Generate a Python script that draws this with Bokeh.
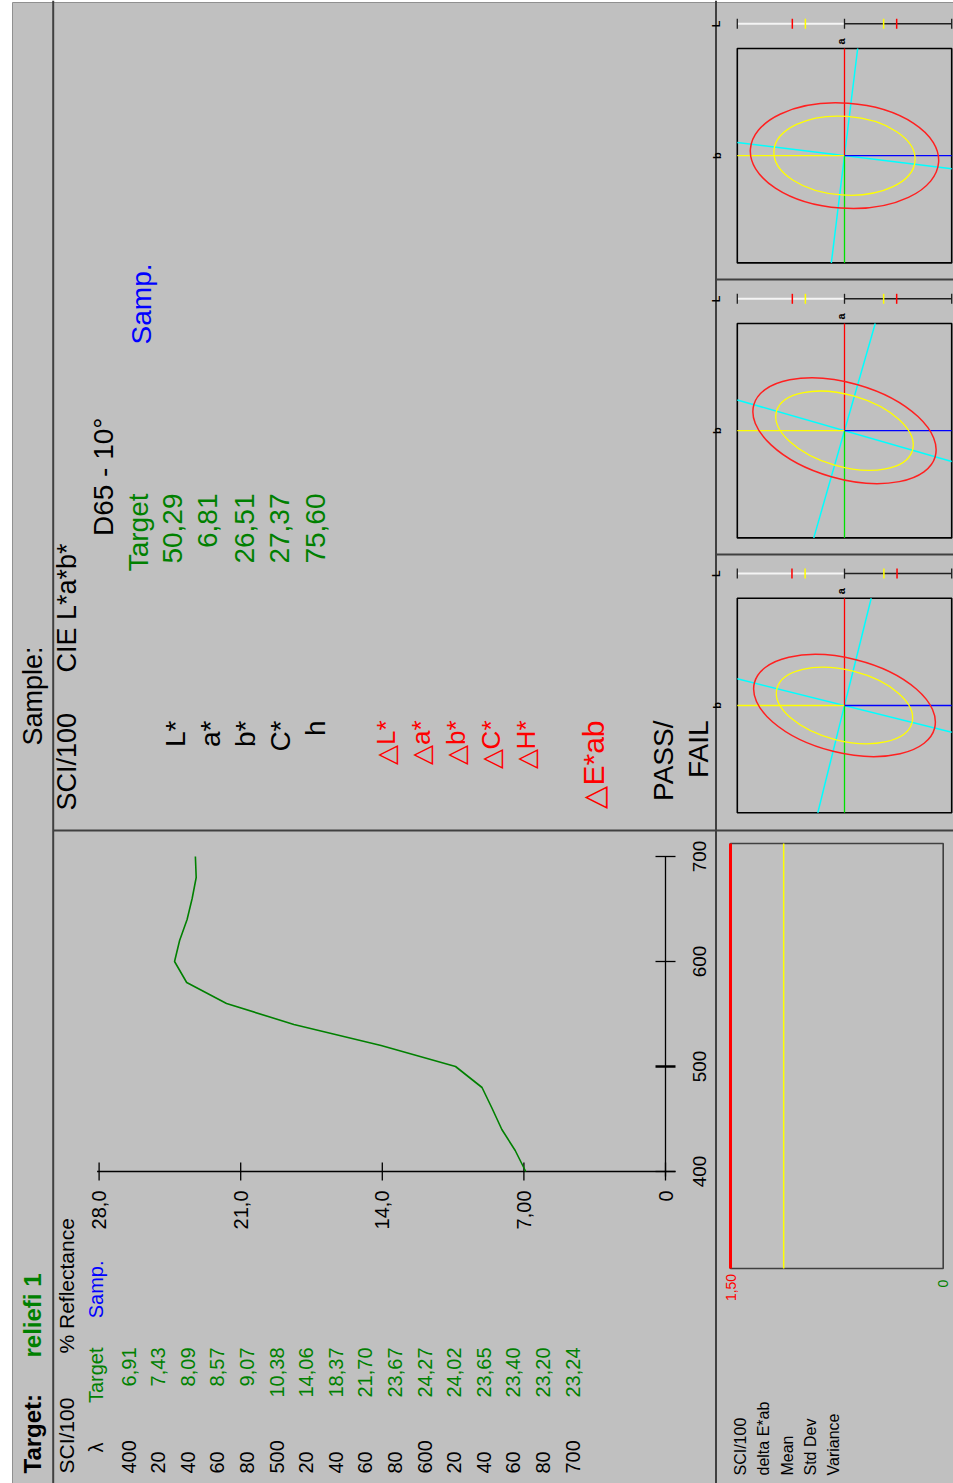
import math
from bokeh.plotting import figure
from bokeh.models import Range1d
from bokeh.core.properties import value
from bokeh.embed import file_html
from bokeh.resources import INLINE

# ---------------- data ----------------
wavelengths = [400, 420, 440, 460, 480, 500, 520, 540, 560, 580, 600, 620, 640, 660, 680, 700]
wl_row_labels = ["400", "20", "40", "60", "80", "500", "20", "40", "60", "80",
                 "600", "20", "40", "60", "80", "700"]
target_reflectance = [6.91, 7.43, 8.09, 8.57, 9.07, 10.38, 14.06, 18.37, 21.70, 23.67,
                      24.27, 24.02, 23.65, 23.40, 23.20, 23.24]
refl_ticks = [28.0, 21.0, 14.0, 7.0, 0.0]
refl_tick_labels = ["28,0", "21,0", "14,0", "7,00", "0"]
wl_ticks = [400, 500, 600, 700]
wl_tick_labels = ["400", "500", "600", "700"]

lab_names = ["L*", "a*", "b*", "C*", "h"]
lab_target = [50.29, 6.81, 26.51, 27.37, 75.60]
delta_names = ["\u25b3L*", "\u25b3a*", "\u25b3b*", "\u25b3C*", "\u25b3H*"]

ellipse_major = [2.64, 2.64, 2.60]
ellipse_minor = [1.47, 1.34, 1.32]
ellipse_tilt_deg = [-4.0, -16.0, -14.0]
hue_tilt_deg = [-7.0, -16.0, -14.0]
l_tolerance = [1.46, 1.46, 1.47]
warning_fraction = 0.75
ab_half_span = 3.0

de_tolerance = 1.50
de_limit_labels = ["1,50", "0"]
stat_labels = ["SCI/100", "delta E*ab", "Mean", "Std Dev", "Variance"]


def dec(v, nd=2):
    return f"{v:.{nd}f}".replace(".", ",")


# ---------------- layout helpers (page pixel coordinates) ----------------
FX0, FX1 = 0, 953      # page x covered by the frame
FY0, FY1 = 0, 1483     # Y (upward) covered by the frame


def Y(py):
    return 1483 - py


def make_range(p0, v0, p1, v1, lo, hi):
    k = (v1 - v0) / (p1 - p0)
    return Range1d(start=v0 + (lo - p0) * k, end=v0 + (hi - p0) * k)


FONT = value("Liberation Sans")
GRAY = "#c0c0c0"
DARK = "#404040"

p = figure(width=953, height=1483, x_range=Range1d(FX0, FX1), y_range=Range1d(FY0, FY1),
           output_backend="svg", toolbar_location=None, min_border=0,
           x_axis_location=None, y_axis_location=None,
           background_fill_color="white", border_fill_color="white", outline_line_color=None)
p.xgrid.grid_line_color = None
p.ygrid.grid_line_color = None


def rtext(xs, ys, texts, size, color="black", align="left", bold=False, **kw):
    p.text(x=list(xs), y=list(ys), text=list(texts), angle=math.pi / 2,
           text_align=align, text_baseline="middle", text_font=FONT,
           text_font_size=f"{size}px", text_color=color,
           text_font_style="bold" if bold else "normal", **kw)


# ---------------- window background & panel frames ----------------
p.quad(left=[12], right=[960], top=[Y(2)], bottom=[Y(1490)], fill_color=GRAY, line_color=None)
p.segment(x0=[12, 12], y0=[Y(2), Y(2)], x1=[12, 960], y1=[Y(1490), Y(2)],
          line_color="#909090", line_width=1)
p.segment(x0=[52.7, 715.5, 52.7, 715.5, 715.5],
          y0=[Y(0), Y(0), Y(830), Y(279), Y(554)],
          x1=[52.7, 715.5, 960, 960, 960],
          y1=[Y(1490), Y(1490), Y(830), Y(279), Y(554)],
          line_color=DARK, line_width=2)

# ---------------- title strip ----------------
rtext([32], [Y(1473)], ["Target:"], 24, bold=True)
rtext([32], [Y(1357)], ["reliefi 1"], 24, color="#008000", bold=True)
rtext([32], [Y(745)], ["Sample:"], 27)

# ---------------- reflectance table ----------------
rtext([66], [Y(1473)], ["SCI/100"], 21)
rtext([66], [Y(1353)], ["% Reflectance"], 21)
rtext([95], [Y(1447)], ["\u03bb"], 20, align="center")
rtext([95], [Y(1347)], ["Target"], 20, color="#008000", align="right")
rtext([95], [Y(1260)], ["Samp."], 20, color="#0000ff", align="right")
row_x = [128 + 29.6 * i for i in range(len(wavelengths))]
rtext(row_x, [Y(1473)] * len(row_x), wl_row_labels, 20)
rtext(row_x, [Y(1347)] * len(row_x), [dec(v) for v in target_reflectance], 20,
      color="#008000", align="right")

# ---------------- spectral plot (own scales) ----------------
REFL_PX = (665 - 98.6) / 28.0
WL_PX = (1171 - 856) / 300.0
p.extra_x_ranges["refl"] = make_range(665, 0.0, 98.6, 28.0, FX0, FX1)
p.extra_y_ranges["wl"] = make_range(Y(1171), 400.0, Y(856), 700.0, FY0, FY1)
sp = dict(x_range_name="refl", y_range_name="wl")
wl0 = min(wl_ticks)
# reflectance axis
p.segment(x0=[max(refl_ticks) + 2 / REFL_PX], y0=[wl0], x1=[min(refl_ticks) - 10 / REFL_PX],
          y1=[wl0], line_color="black", line_width=1.3, **sp)
n = len(refl_ticks)
p.segment(x0=refl_ticks, y0=[wl0 - 9 / WL_PX] * n, x1=refl_ticks, y1=[wl0 + 9 / WL_PX] * n,
          line_color="black", line_width=1.3, **sp)
rtext(refl_ticks, [wl0 - 19 / WL_PX] * n, refl_tick_labels, 20, align="right", **sp)
# wavelength axis
p.segment(x0=[0.0], y0=[wl0 - 5 / WL_PX], x1=[0.0], y1=[max(wl_ticks)],
          line_color="black", line_width=1.3, **sp)
m = len(wl_ticks)
p.segment(x0=[10 / REFL_PX] * m, y0=wl_ticks, x1=[-10 / REFL_PX] * m, y1=wl_ticks,
          line_color="black", line_width=[1.3, 2.5, 1.3, 1.3], **sp)
rtext([-34 / REFL_PX] * m, wl_ticks, wl_tick_labels, 19, align="center", **sp)
# curve
p.line(target_reflectance, wavelengths, line_color="#008000", line_width=1.6, **sp)

# ---------------- CIE L*a*b* block ----------------
rtext([66], [Y(810)], ["SCI/100"], 27)
rtext([66], [Y(672)], ["CIE L*a*b*"], 27)
rtext([103], [Y(417)], ["D65 - 10\u00b0"], 28, align="right")
rtext([138], [Y(493)], ["Target"], 28, color="#008000", align="right")
rtext([141], [Y(263)], ["Samp."], 28, color="#0000ff", align="right")
lab_x = [175, 210, 245, 280, 315]
rtext(lab_x, [Y(720)] * 5, lab_names, 28, align="right")
rtext([172, 207, 244, 279, 315], [Y(493)] * 5, [dec(v) for v in lab_target], 28,
      color="#008000", align="right")
rtext([385, 420, 455, 490, 525], [Y(720)] * 5, delta_names, 26, color="#ff0000", align="right")
rtext([593], [Y(720)], ["\u25b3E*ab"], 30, color="#ff0000", align="right")
rtext([663, 698], [Y(720)] * 2, ["PASS/", "FAIL"], 28, align="right")

# ---------------- a*b* tolerance panels ----------------
AB_PX = 107.2 / ab_half_span
R = ab_half_span
p.extra_x_ranges["ab"] = make_range(844, 0.0, 844 + 107.2, R, FX0, FX1)
centers_py = [155.2, 430.2, 705.0]
lbar_off = 131.9 / AB_PX
for i, cy in enumerate(centers_py):
    rn = f"ab{i}"
    p.extra_y_ranges[rn] = make_range(Y(cy), 0.0, Y(cy) + 107.2, R, FY0, FY1)
    kw = dict(x_range_name="ab", y_range_name=rn)
    p.rect(x=[0], y=[0], width=[2 * R], height=[2 * R], fill_color=None,
           line_color="black", line_width=1.6, **kw)
    t = math.tan(math.radians(hue_tilt_deg[i]))
    p.segment(x0=[-R, R * t], y0=[-R * t, -R], x1=[R, -R * t], y1=[R * t, R],
              line_color="#00ffff", line_width=1.5, **kw)
    p.segment(x0=[0], y0=[0], x1=[0], y1=[R], line_color="#ff0000", line_width=1.3, **kw)
    p.segment(x0=[0], y0=[0], x1=[0], y1=[-R], line_color="#00e000", line_width=1.3, **kw)
    p.segment(x0=[0], y0=[0], x1=[-R], y1=[0], line_color="#ffff00", line_width=1.3, **kw)
    p.segment(x0=[0], y0=[0], x1=[R], y1=[0], line_color="#0000ff", line_width=1.3, **kw)
    p.ellipse(x=[0], y=[0], width=[2 * ellipse_major[i]], height=[2 * ellipse_minor[i]],
              angle=[math.radians(ellipse_tilt_deg[i])], fill_color=None,
              line_color="#ff2020", line_width=1.5, **kw)
    p.ellipse(x=[0], y=[0], width=[2 * ellipse_major[i] * warning_fraction],
              height=[2 * ellipse_minor[i] * warning_fraction],
              angle=[math.radians(ellipse_tilt_deg[i])], fill_color=None,
              line_color="#ffff00", line_width=1.3, **kw)
    # L* bar
    yl = lbar_off
    hl = 5 / AB_PX
    p.segment(x0=[-R], y0=[yl], x1=[0], y1=[yl], line_color="#f4f4f4", line_width=2, **kw)
    p.segment(x0=[0], y0=[yl], x1=[R], y1=[yl], line_color="#202020", line_width=1.5, **kw)
    p.segment(x0=[-R, 0, R], y0=[yl - hl] * 3, x1=[-R, 0, R], y1=[yl + hl] * 3,
              line_color="#202020", line_width=1.3, **kw)
    lt = l_tolerance[i]
    p.segment(x0=[-lt, lt], y0=[yl - hl] * 2, x1=[-lt, lt], y1=[yl + hl] * 2,
              line_color="#ff0000", line_width=1.5, **kw)
    lw_ = lt * warning_fraction
    p.segment(x0=[-lw_, lw_], y0=[yl - hl] * 2, x1=[-lw_, lw_], y1=[yl + hl] * 2,
              line_color="#ffff00", line_width=1.5, **kw)
    rtext([-R - 21 / AB_PX], [yl], ["L"], 11, align="center", bold=True, **kw)
    rtext([-4 / AB_PX], [R + 7 / AB_PX], ["a"], 11, align="center", bold=True, **kw)
    rtext([-R - 20 / AB_PX], [0], ["b"], 11, align="center", bold=True, **kw)

# ---------------- delta E trend panel ----------------
p.extra_x_ranges["de"] = make_range(942.7, 0.0, 730.0, de_tolerance, FX0, FX1)
dk = dict(x_range_name="de")
p.quad(left=[de_tolerance], right=[0.0], top=[Y(843)], bottom=[Y(1268)], fill_color=None,
       line_color=DARK, line_width=1.6, **dk)
p.segment(x0=[de_tolerance], y0=[Y(843)], x1=[de_tolerance], y1=[Y(1268)],
          line_color="#ff0000", line_width=3, **dk)
p.segment(x0=[de_tolerance * warning_fraction], y0=[Y(843)],
          x1=[de_tolerance * warning_fraction], y1=[Y(1268)],
          line_color="#ffff00", line_width=1.5, **dk)
rtext([de_tolerance], [Y(1287)], [de_limit_labels[0]], 14, color="#ff0000", align="center", **dk)
rtext([0.0], [Y(1283)], [de_limit_labels[1]], 14, color="#008000", align="center", **dk)
rtext([740, 763, 787, 810, 833], [Y(1475)] * 5, stat_labels, 16)

open("out.html", "w").write(file_html(p, INLINE))
